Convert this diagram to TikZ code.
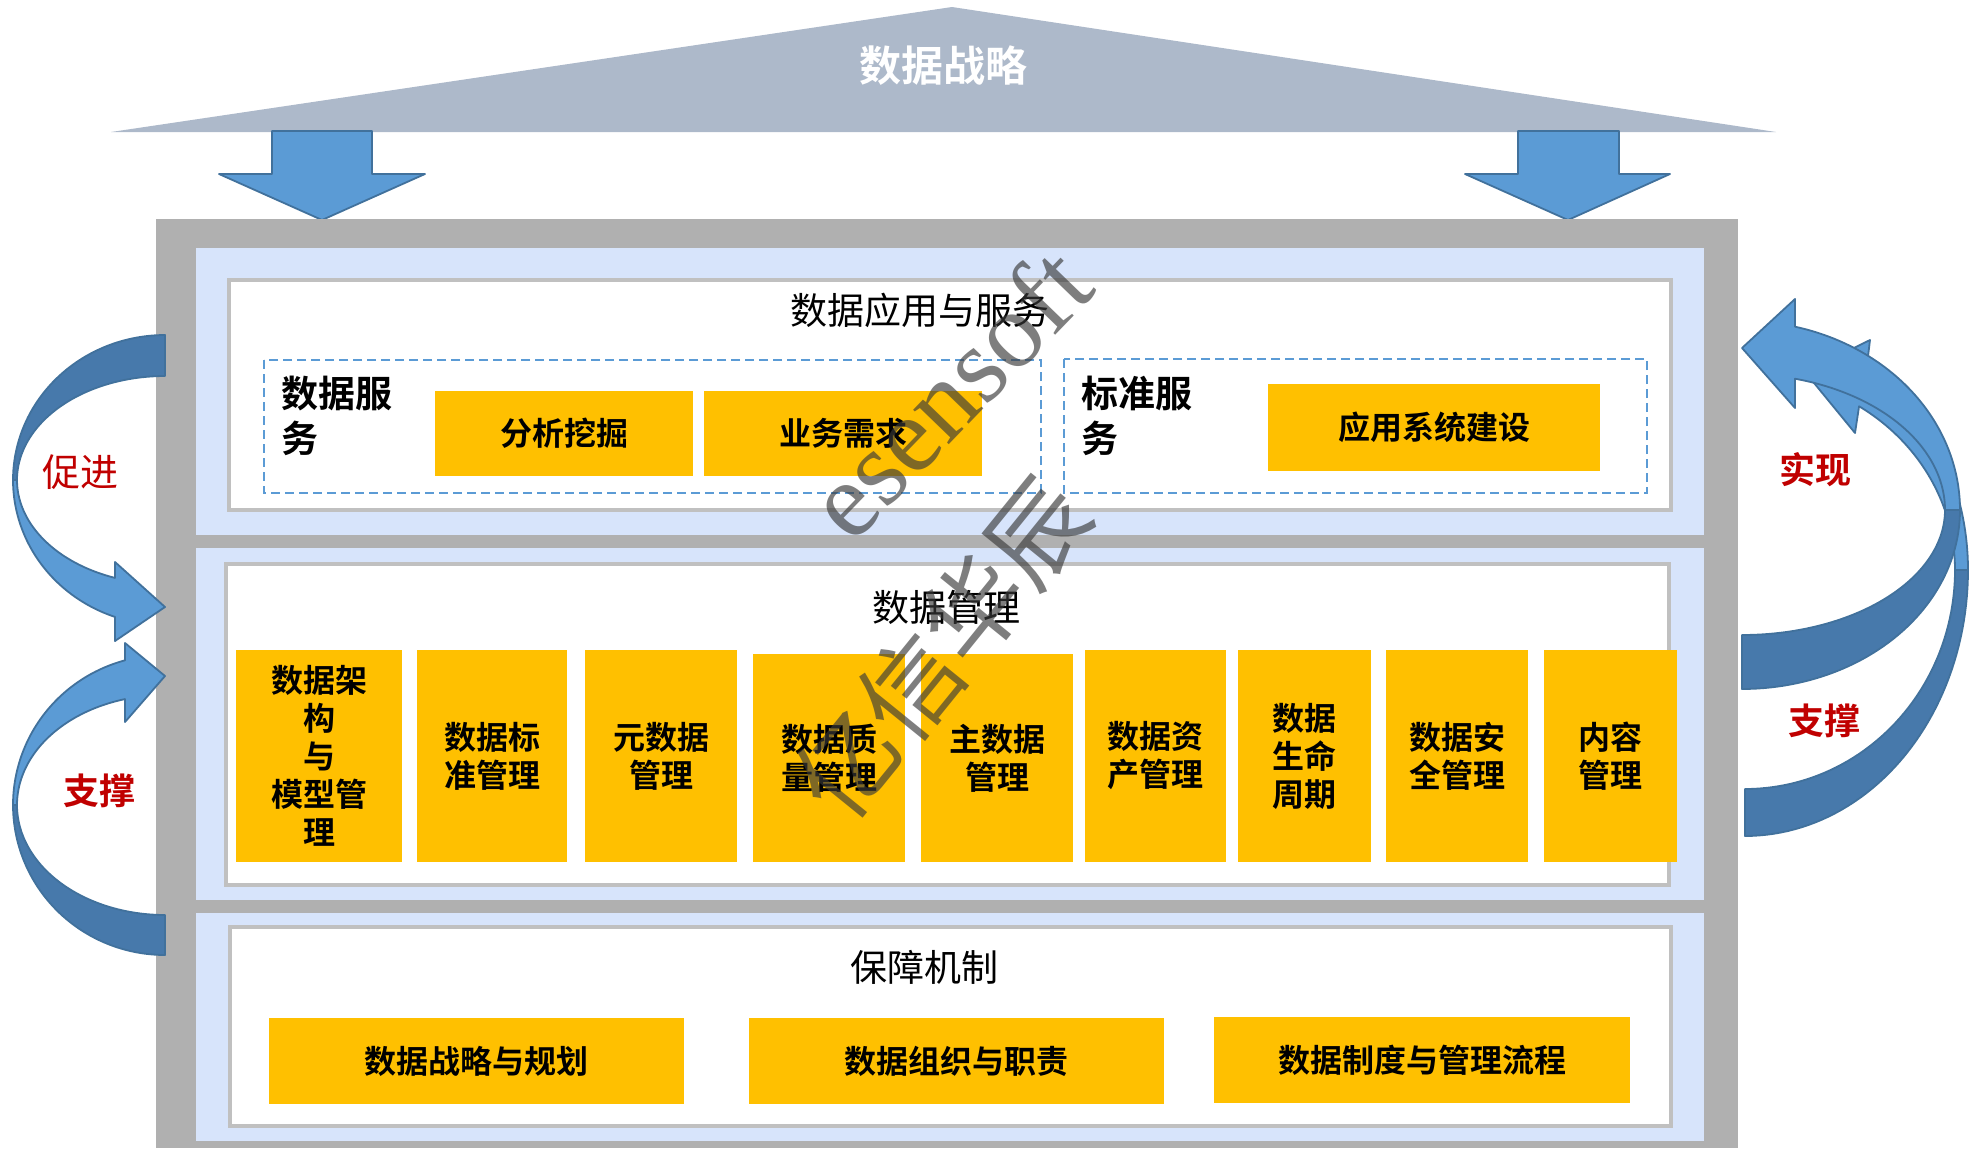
\documentclass[tikz,border=0pt]{standalone}
\usepackage{fontspec}
\setmainfont{Noto Sans CJK SC}[BoldFont={Noto Sans CJK SC Bold}]
\newfontfamily\wmfont{Liberation Serif}
\definecolor{roof}{HTML}{ADB9CA}
\definecolor{frame}{HTML}{B0B0B0}
\definecolor{panelblue}{HTML}{D7E4FB}
\definecolor{innergray}{HTML}{C0C0C0}
\definecolor{ylw}{HTML}{FFC000}
\definecolor{lite}{HTML}{5B9BD5}
\definecolor{dark}{HTML}{4779AB}
\definecolor{edge}{HTML}{41719C}
\definecolor{redt}{HTML}{C00000}
\definecolor{wm}{HTML}{3A3A3A}
\tikzset{
  ybox/.style={fill=ylw, draw=none, text=black, inner sep=0pt, align=center,
    font=\bfseries\fontsize{32}{38}\selectfont},
  innerbox/.style={fill=white, draw=innergray, line width=3.5pt},
  dashbox/.style={draw=lite, line width=2.5pt, dash pattern=on 9pt off 5pt},
  title/.style={font=\fontsize{37}{44}\selectfont, text=black},
  sidelabel/.style={font=\bfseries\fontsize{37}{45}\selectfont, align=left, anchor=west, inner sep=0pt},
  lightpart/.style={fill=lite, draw=edge, line width=1.8pt, line join=round},
  darkpart/.style={fill=dark, draw=edge, line width=1.8pt, line join=round},
  redlab/.style={text=redt, inner sep=0pt},
  wmark/.style={text=wm, opacity=0.65, inner sep=0pt}
}
\begin{document}
\begin{tikzpicture}[x=1pt, y=-1pt]
\useasboundingbox (0,0) rectangle (1972,1152);
% roof
\fill[roof] (111,132) -- (952,7) -- (1776,132) -- cycle;
\node[text=white, font=\bfseries\fontsize{42}{42}\selectfont, inner sep=0pt] (strat) at (943,66) {数据战略};
% down arrows
\draw[lightpart] (272,131) -- (372,131) -- (372,174) -- (425,174) -- (322,220) -- (219,174) -- (272,174) -- cycle;
\draw[lightpart] (1518,131) -- (1619,131) -- (1619,174) -- (1670,174) -- (1568,220) -- (1465,174) -- (1518,174) -- cycle;
% frame and panels
\fill[frame] (156,219) rectangle (1738,1148);
\fill[panelblue] (196,248) rectangle (1704,535);
\fill[panelblue] (196,548) rectangle (1704,900);
\fill[panelblue] (196,913) rectangle (1704,1141);
\draw[innerbox] (229,280) rectangle (1671,510);
\draw[innerbox] (226,564) rectangle (1669,885);
\draw[innerbox] (230,927) rectangle (1671,1126);
% top panel
\node[title] (t1) at (920,310) {数据应用与服务};
\draw[dashbox] (264,360) rectangle (1041,493);
\draw[dashbox] (1064,359) rectangle (1647,493);
\node[sidelabel] (ds) at (281,416) {数据服\\务};
\node[sidelabel] (bs) at (1081,416) {标准服\\务};
\node[ybox, minimum width=258pt, minimum height=85pt] (fx) at (564,433.5) {分析挖掘};
\node[ybox, minimum width=278pt, minimum height=85pt] (yw) at (843,433.5) {业务需求};
\node[ybox, minimum width=332pt, minimum height=87pt] (yy) at (1434,427.5) {应用系统建设};
% middle panel
\node[title] (t2) at (946,607) {数据管理};
\node[ybox, minimum width=166pt, minimum height=212pt] (m1) at (319,756) {数据架\\构\\与\\模型管\\理};
\node[ybox, minimum width=150pt, minimum height=212pt] (m2) at (492,756) {数据标\\准管理};
\node[ybox, minimum width=152pt, minimum height=212pt] (m3) at (661,756) {元数据\\管理};
\node[ybox, minimum width=152pt, minimum height=208pt] (m4) at (829,758) {数据质\\量管理};
\node[ybox, minimum width=152pt, minimum height=208pt] (m5) at (997,758) {主数据\\管理};
\node[ybox, minimum width=141pt, minimum height=212pt] (m6) at (1155.5,756) {数据资\\产管理};
\node[ybox, minimum width=133pt, minimum height=212pt] (m7) at (1304.5,756) {数据\\生命\\周期};
\node[ybox, minimum width=142pt, minimum height=212pt] (m8) at (1457,756) {数据安\\全管理};
\node[ybox, minimum width=133pt, minimum height=212pt] (m9) at (1610.5,756) {内容\\管理};
% bottom panel
\node[title] (t3) at (924,967) {保障机制};
\node[ybox, minimum width=415pt, minimum height=86pt] (b1) at (476.5,1061) {数据战略与规划};
\node[ybox, minimum width=415pt, minimum height=86pt] (b2) at (956.5,1061) {数据组织与职责};
\node[ybox, minimum width=416pt, minimum height=86pt] (b3) at (1422,1060) {数据制度与管理流程};
% left curved arrows
\draw[darkpart] plot[domain=-90:-180, samples=50] ({165+152*cos(\x)},{480+145*sin(\x)})
   -- plot[domain=-180:-90, samples=50] ({165+148*cos(\x)},{480+104*sin(\x)}) -- cycle;
\draw[lightpart] plot[domain=180:109.2, samples=50] ({165+152*cos(\x)},{480+145*sin(\x)})
   -- (115,641) -- (165,607) -- (115,562)
   -- plot[domain=109.75:180, samples=50] ({165+148*cos(\x)},{480+104*sin(\x)}) -- cycle;
\draw[lightpart] plot[domain=180:254.74, samples=50] ({165+152*cos(\x)},{805+150*sin(\x)})
   -- (125,643) -- (165,676) -- (125,722)
   -- plot[domain=254.32:180, samples=50] ({165+148*cos(\x)},{805+110*sin(\x)}) -- cycle;
\draw[darkpart] plot[domain=180:90, samples=50] ({165+152*cos(\x)},{805+150*sin(\x)})
   -- plot[domain=90:180, samples=50] ({165+148*cos(\x)},{805+110*sin(\x)}) -- cycle;
\node[redlab, font=\fontsize{38}{38}\selectfont] (cj) at (80,472) {促进};
\node[redlab, font=\bfseries\fontsize{36}{36}\selectfont] (zc1) at (99,791) {支撑};
% right curved arrows (lower first)
\draw[lightpart] plot[domain=0:-56.8, samples=50] ({1745+223*cos(\x)},{570+247*sin(\x)})
   -- (1870,340) -- (1805,372) -- (1855,433)
   -- plot[domain=-57.1:0, samples=50] ({1745+210*cos(\x)},{570+195*sin(\x)}) -- cycle;
\draw[darkpart] plot[domain=0:90, samples=50] ({1745+223*cos(\x)},{570+266*sin(\x)})
   -- plot[domain=90:0, samples=50] ({1745+210*cos(\x)},{570+219*sin(\x)}) -- cycle;
\draw[lightpart] plot[domain=0:-75.93, samples=50] ({1742+218*cos(\x)},{510+189*sin(\x)})
   -- (1795,299) -- (1742,348) -- (1795,408)
   -- plot[domain=-74.87:0, samples=50] ({1742+203*cos(\x)},{510+136*sin(\x)}) -- cycle;
\draw[darkpart] plot[domain=0:90, samples=50] ({1742+218*cos(\x)},{510+179*sin(\x)})
   -- plot[domain=90:0, samples=50] ({1742+203*cos(\x)},{510+125*sin(\x)}) -- cycle;
\node[redlab, font=\bfseries\fontsize{36}{36}\selectfont] (sx) at (1815,470) {实现};
\node[redlab, font=\bfseries\fontsize{36}{36}\selectfont] (zc2) at (1824,721) {支撑};
% watermark
\node[wmark, rotate=46, font=\wmfont\fontsize{108}{108}\selectfont] (wm1) at (948,392) {esensoft};
\node[wmark, rotate=51, font=\fontsize{100}{100}\selectfont] (wm2) at (942,648) {亿信华辰};
\end{tikzpicture}
\end{document}
